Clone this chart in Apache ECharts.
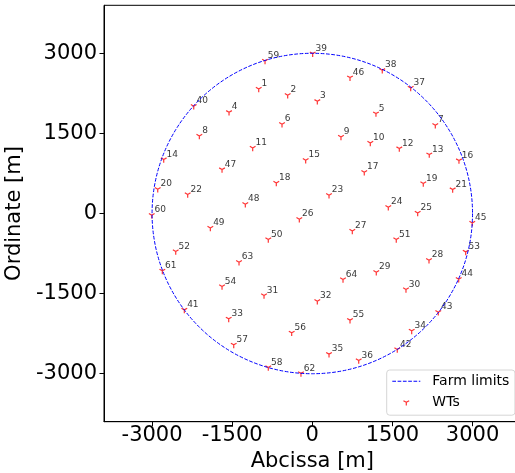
<!DOCTYPE html>
<html>
<head>
<meta charset="utf-8">
<script src="https://cdn.jsdelivr.net/npm/echarts@6/dist/echarts.min.js"></script>
<style>
  html, body { margin: 0; padding: 0; background: #fff; }
  #chart { width: 515px; height: 473px; }
</style>
</head>
<body>
<div id="chart"></div>
<script>
// Wind turbine identifiers and positions (metres)
const wtIds = [
  1, 2, 3, 4, 5, 6, 7, 8, 9, 10, 11, 12, 13, 14, 15, 16,
  17, 18, 19, 20, 21, 22, 23, 24, 25, 26, 27, 28, 29, 30, 31, 32,
  33, 34, 35, 36, 37, 38, 39, 40, 41, 42, 43, 44, 45, 46, 47, 48,
  49, 50, 51, 52, 53, 54, 55, 56, 57, 58, 59, 60, 61, 62, 63, 64
];
const wtX = [
  -1003, -461, 94, -1559, 1192, -567, 2303, -2115, 537, 1086, -1116, 1629, 2190, -2782, -124, 2746,
  973, -674, 2078, -2894, 2628, -2333, 313, 1423, 1973, -243, 749, 2185, 1198, 1754, -904, 94,
  -1565, 1861, 313, 869, 1842, 1310, 7, -2220, -2396, 1591, 2359, 2741, 2995, 706, -1690, -1254,
  -1909, -824, 1572, -2557, 2872, -1690, 706, -386, -1471, -824, -885, -3006, -2808, -212, -1372, 575
];
const wtY = [
  2333, 2215, 2102, 1896, 1872, 1672, 1653, 1453, 1434, 1322, 1228, 1217, 1104, 1011, 998, 992,
  773, 573, 562, 455, 449, 356, 343, 118, 11, -107, -326, -874, -1099, -1423, -1535, -1642,
  -1973, -2198, -2634, -2752, 2351, 2683, 2995, 2009, -1805, -2546, -1848, -1230, -176, 2546, 824, 174,
  -270, -487, -487, -711, -719, -1367, -1997, -2235, -2460, -2883, 2857, -32, -1074, -2995, -912, -1236
];

// Farm boundary: circle centre and radius (metres)
const farmCenter = [0, 0];
const farmRadius = 3000;

// Axis range and tick values
const axisMin = -3900;
const axisMax = 3900;
const tickValues = [-3000, -1500, 0, 1500, 3000];

const FONT = 'DejaVu Sans';

const wtData = wtIds.map((id, i) => [wtX[i], wtY[i], id]);

// tri_down marker ("Y" shape) drawn as strokes; corner moves keep the junction centred
const wtSymbol = 'path://M-1 -1 M1 1 M0 0 L0 1 M0 0 L0.866 -0.5 M0 0 L-0.866 -0.5';

// Legend icons (35 x 14 boxes)
const farmIcon = 'path://M0 0 M35 14 ' +
  'M0 6.5h3.7v1h-3.7Z M5.3 6.5h3.7v1h-3.7Z M10.6 6.5h3.7v1h-3.7Z ' +
  'M15.9 6.5h3.7v1h-3.7Z M21.2 6.5h3.7v1h-3.7Z M26.5 6.5h1.5v1h-1.5Z';
const wtIcon = 'path://M0 0 M35 14 M14 7 L14 10.3 M14 7 L16.86 5.35 M14 7 L11.14 5.35';

const axisCommon = {
  type: 'value',
  min: axisMin,
  max: axisMax,
  splitLine: { show: false },
  axisLine: { show: true, onZero: false, lineStyle: { color: '#000', width: 1 } },
  axisTick: { show: true, inside: false, length: 4.5, customValues: tickValues, lineStyle: { color: '#000', width: 1 } },
  axisLabel: {
    customValues: tickValues,
    formatter: v => String(v),
    fontSize: 21, fontFamily: FONT, color: '#000'
  },
  nameLocation: 'middle',
  nameTextStyle: { fontSize: 21, fontFamily: FONT, color: '#000' }
};

const chart = echarts.init(document.getElementById('chart'), null, { renderer: 'canvas' });

chart.setOption({
  animation: false,
  backgroundColor: '#fff',
  grid: {
    left: 104, top: 5.3, width: 416.6, height: 416.4,
    containLabel: false,
    outerBoundsMode: 'none',
    show: true, borderColor: '#000', borderWidth: 1, backgroundColor: 'transparent'
  },
  xAxis: Object.assign({}, axisCommon, {
    name: 'Abcissa [m]',
    nameGap: 20,
    axisLabel: Object.assign({}, axisCommon.axisLabel, { margin: 3 })
  }),
  yAxis: Object.assign({}, axisCommon, {
    name: 'Ordinate [m]',
    nameGap: 55,
    nameRotate: 90,
    axisLabel: Object.assign({}, axisCommon.axisLabel, { margin: 7, padding: [4, 0, 0, 0] })
  }),
  legend: {
    orient: 'vertical',
    left: 386.7,
    top: 370,
    itemWidth: 35,
    itemHeight: 14,
    itemGap: 6.4,
    padding: [4.3, 5.6, 5.3, 5],
    backgroundColor: '#fff',
    borderColor: '#d6d6d6',
    borderWidth: 1,
    borderRadius: 3,
    textStyle: { fontSize: 14, fontFamily: FONT, color: '#000' },
    data: [
      { name: 'Farm limits', icon: farmIcon, itemStyle: { color: 'blue', borderWidth: 0 } },
      { name: 'WTs', icon: wtIcon, itemStyle: { color: 'red', borderColor: 'red', borderWidth: 1.2 } }
    ]
  },
  series: [
    {
      name: 'WTs',
      type: 'scatter',
      data: wtData,
      symbol: wtSymbol,
      symbolSize: 6.6,
      itemStyle: { color: 'red', borderColor: 'red', borderWidth: 1.2 },
      label: {
        show: true,
        position: 'inside',
        align: 'left',
        verticalAlign: 'middle',
        offset: [2.8, -5.2],
        formatter: p => String(p.value[2]),
        fontSize: 9,
        fontFamily: FONT,
        color: '#000'
      },
      emphasis: { disabled: true },
      z: 3
    },
    {
      name: 'Farm limits',
      type: 'custom',
      data: [[farmCenter[0], farmCenter[1], farmRadius]],
      encode: { x: 0, y: 1 },
      renderItem: function (params, api) {
        const c = api.coord([api.value(0), api.value(1)]);
        const r = api.size([api.value(2), 0])[0];
        return {
          type: 'circle',
          shape: { cx: c[0], cy: c[1], r: r },
          style: { fill: 'none', stroke: 'blue', lineWidth: 1, lineDash: [3.7, 1.6] }
        };
      },
      z: 4,
      silent: true
    }
  ]
});
</script>
</body>
</html>
